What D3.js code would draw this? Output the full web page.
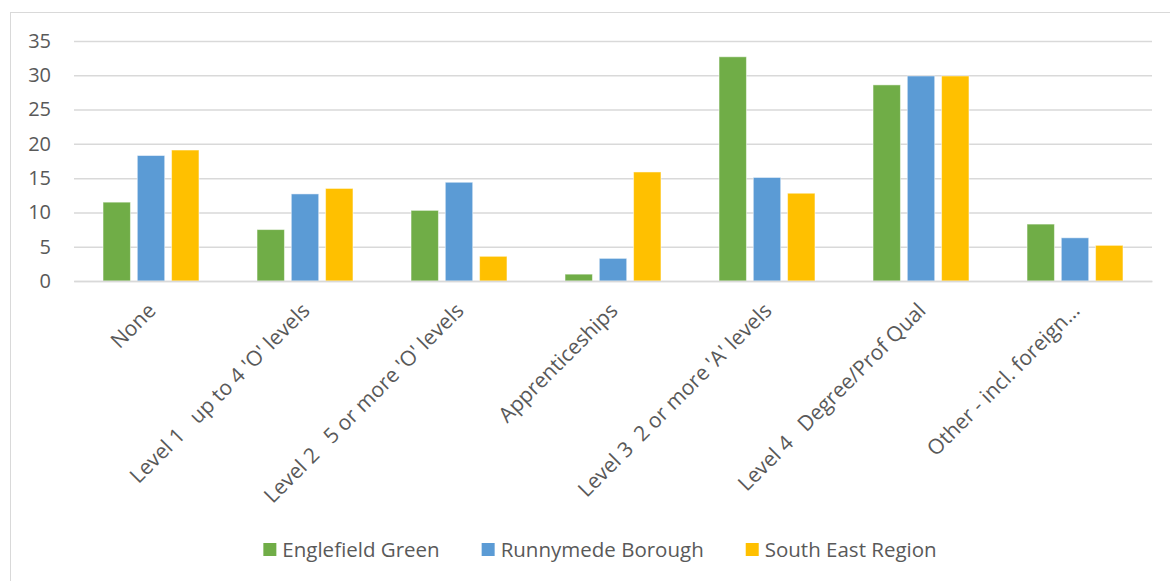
<!DOCTYPE html>
<html><head><meta charset="utf-8">
<script src="https://cdn.jsdelivr.net/npm/d3@7"></script>
<style>
html,body{margin:0;padding:0;background:#fff;}
svg text{font-family:"Open Sans",Lato,sans-serif;fill:#595959;white-space:pre;}
</style></head>
<body>
<svg id="chart" width="1170" height="581"></svg>
<script>
const categories = ["None","Level 1   up to 4 'O' levels","Level 2   5 or more 'O' levels","Apprenticeships","Level 3  2 or more 'A' levels","Level 4   Degree/Prof Qual","Other - incl. foreign…"];
const seriesNames = ["Englefield Green","Runnymede Borough","South East Region"];
const englefieldGreen = [11.5, 7.5, 10.3, 1.0, 32.7, 28.6, 8.3];
const runnymedeBorough = [18.3, 12.7, 14.4, 3.3, 15.1, 29.9, 6.3];
const southEastRegion = [19.1, 13.5, 3.6, 15.9, 12.8, 29.9, 5.2];
const yTicks = [0,5,10,15,20,25,30,35];
const colors = ["#70ad47","#5b9bd5","#ffc000"];

const seriesValues = [englefieldGreen, runnymedeBorough, southEastRegion];
const svg = d3.select("#chart");

// chart border
svg.append("rect").attr("x",10.5).attr("y",12.5).attr("width",1200).attr("height",600)
  .attr("fill","none").attr("stroke","#d9d9d9").attr("stroke-width",1);

const mLeft=74, mRight=1152, mTop=41, mBottom=281;
const x0 = d3.scaleBand().domain(categories).range([mLeft,mRight]).paddingInner(0.377).paddingOuter(0.1885);
const x1 = d3.scaleBand().domain(seriesNames).range([0,x0.bandwidth()]).paddingInner(0.2);
const y = d3.scaleLinear().domain([0,35]).range([mBottom,mTop]);

// gridlines
const yAxis = d3.axisLeft(y).tickValues(yTicks).tickSize(-(mRight-mLeft)).tickPadding(23);
const gy = svg.append("g").attr("transform",`translate(${mLeft},0)`).call(yAxis);
gy.select(".domain").remove();
gy.selectAll(".tick line").attr("stroke","#d9d9d9").attr("stroke-width",1.5);
gy.selectAll(".tick text").attr("font-size","20px").style("fill","#595959");

// bars
const groups = svg.append("g").selectAll("g").data(categories).join("g")
  .attr("transform",d=>`translate(${x0(d)},0)`);
groups.selectAll("rect").data((d,i)=>seriesNames.map((s,j)=>({s,j,v:seriesValues[j][i]}))).join("rect")
  .attr("x",d=>x1(d.s)).attr("width",x1.bandwidth())
  .attr("y",d=>y(d.v)).attr("height",d=>y(0)-y(d.v))
  .attr("fill",d=>colors[d.j]).attr("stroke","#ffffff").attr("stroke-opacity",0.5).attr("stroke-width",1);

// x axis
const xAxisScale = d3.scaleBand().domain(categories).range([mLeft,mRight]);
const gx = svg.append("g").attr("transform",`translate(0,${mBottom})`).call(d3.axisBottom(xAxisScale).tickSize(0).tickPadding(0));
gx.select(".domain").attr("stroke","#d9d9d9").attr("stroke-width",1.5);
gx.selectAll(".tick text").attr("font-size","21px").style("fill","#595959")
  .attr("text-anchor","end").attr("dy",null).attr("y",0)
  .attr("transform","translate(6,31) rotate(-45)");

// legend
const leg = svg.append("g");
const items = leg.selectAll("g").data(seriesNames).join("g");
items.append("rect").attr("width",13).attr("height",13).attr("y",-14).attr("fill",(d,i)=>colors[i]);
items.append("text").attr("x",19).attr("y",0).attr("font-size","20.5px").text(d=>d);
const widths=[];
items.each(function(){ const w=this.querySelector("text").getComputedTextLength()+19; widths.push(w); });
const gap=42;
const total = d3.sum(widths)+gap*(widths.length-1);
let start = 600 - total/2;
items.attr("transform",(d,i)=>{ const t=`translate(${start},557)`; start+=widths[i]+gap; return t; });
</script>
</body></html>
